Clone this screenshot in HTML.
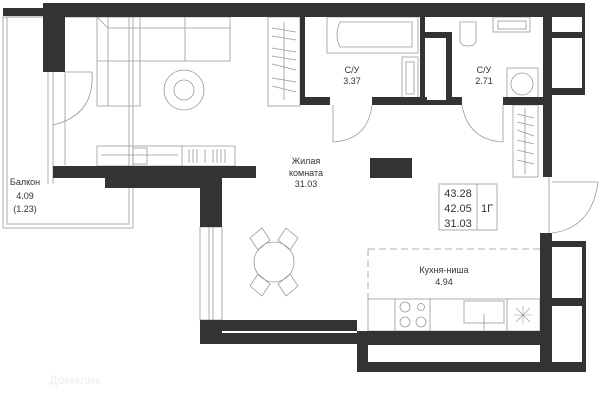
<!DOCTYPE html>
<html><head><meta charset="utf-8"><style>
html,body{margin:0;padding:0;background:#fff;}
svg{display:block;}
text{font-family:"Liberation Sans",sans-serif;fill:#333;font-size:9px;text-anchor:middle;}
</style></head><body>
<svg width="600" height="405" viewBox="0 0 600 405" xmlns="http://www.w3.org/2000/svg">
<g fill="none" stroke="#999" stroke-width="0.8">
<!-- balcony -->
<rect x="3" y="17" width="130" height="211"/>
<rect x="7" y="17" width="122" height="207"/>
<!-- left window -->
<line x1="48" y1="72" x2="48" y2="184"/><line x1="53" y1="72" x2="53" y2="184"/><line x1="65" y1="72" x2="65" y2="165"/>
<!-- door balcony -->
<line x1="65" y1="72" x2="92" y2="72"/>
<path d="M92 72 Q95 115 53 125"/>
<!-- sofa -->
<path d="M97 17 H230 V61 H140 V106 H97 Z"/>
<line x1="108" y1="17" x2="108" y2="106"/><line x1="97" y1="61" x2="140" y2="61"/><line x1="97" y1="17" x2="108" y2="28"/><line x1="108" y1="28" x2="230" y2="28"/>
<line x1="140" y1="17" x2="140" y2="61"/><line x1="185" y1="17" x2="185" y2="61"/>
<circle cx="184" cy="90" r="20"/><circle cx="184" cy="90" r="10"/>
<!-- wardrobe -->
<rect x="268" y="17" width="32" height="89"/>
<path d="M272 28 L296 32 M272 36 L296 40 M272 48 L296 52 M272 56 L296 60 M272 64 L296 70 M272 78 L296 82 M272 86 L296 92 M284 22 V100"/>
<!-- tv console -->
<rect x="97" y="146" width="138" height="20"/>
<line x1="182" y1="146" x2="182" y2="166"/>
<line x1="101" y1="155" x2="178" y2="155"/>
<rect x="133" y="148" width="14" height="16"/>
<path d="M189 149 V163 M193 149 V163 M197 149 V163 M205 149 V163 M213 149 V163 M217 149 V163 M221 149 V163 M225 149 V163"/>
<!-- window bottom left -->
<rect x="200" y="227" width="22" height="93"/><line x1="209" y1="227" x2="209" y2="320"/><line x1="213" y1="227" x2="213" y2="320"/>
<!-- dining -->
<circle cx="274" cy="262" r="20"/>
<path d="M250 238 L262 228 L270 240 L258 250 Z M286 228 L298 238 L290 250 L278 240 Z M250 286 L262 296 L270 284 L258 274 Z M298 286 L286 296 L278 284 L290 274 Z"/>
<!-- bathtub -->
<rect x="327" y="17" width="91" height="36"/>
<path d="M340 22 H412 V47 H340 Q334 35 340 22 Z"/>
<rect x="402" y="57" width="16" height="42"/><rect x="406" y="62" width="8" height="32"/>
<!-- toilet / sink -->
<path d="M460 22 H476 V40 Q476 46 468 46 Q460 46 460 40 Z"/>
<rect x="493" y="17" width="37" height="15"/><rect x="498" y="21" width="28" height="8"/>
<rect x="507" y="68" width="31" height="32"/><circle cx="522" cy="84" r="11"/>
<!-- doors bathrooms -->
<path d="M333 105 V142 Q368 140 372 105"/>
<path d="M503 105 V142 Q468 140 462 105"/>
<!-- hall wardrobe -->
<rect x="513" y="105" width="25" height="72"/>
<path d="M517 114 L534 118 M517 122 L534 126 M517 130 L534 136 M517 140 L534 144 M517 150 L534 154 M517 160 L534 164 M525 108 V174"/>
<!-- entrance door -->
<line x1="549" y1="177" x2="549" y2="233"/><line x1="552" y1="182" x2="598" y2="182"/>
<path d="M552 233 Q592 228 598 182"/>
<!-- info box -->
<rect x="439" y="184" width="58" height="46"/><line x1="477" y1="184" x2="477" y2="230"/>
<!-- kitchen -->
<path d="M368 249 H540" stroke-dasharray="7 4"/><path d="M368 249 V299" stroke-dasharray="7 4"/>
<rect x="368" y="299" width="172" height="32"/>
<line x1="395" y1="299" x2="395" y2="331"/><line x1="430" y1="299" x2="430" y2="331"/><line x1="507" y1="299" x2="507" y2="331"/>
<circle cx="405" cy="307" r="5"/><circle cx="421" cy="307" r="3.5"/><circle cx="405" cy="322" r="5"/><circle cx="421" cy="322" r="5"/>
<rect x="464" y="301" width="40" height="22"/><line x1="484" y1="314" x2="484" y2="330"/>
<path d="M516 308 L530 322 M530 308 L516 322 M523 306 V324 M514 315 H532" stroke-width="0.6"/>
</g>
<g fill="#333">
<rect x="3" y="8" width="40" height="8"/>
<rect x="43" y="3" width="542" height="14"/>
<rect x="43" y="3" width="22" height="69"/>
<rect x="53" y="166" width="203" height="12"/>
<rect x="105" y="177" width="117" height="11"/>
<rect x="200" y="177" width="22" height="50"/>
<rect x="200" y="320" width="157" height="24"/>
<rect x="300" y="17" width="5" height="88"/>
<rect x="300" y="97" width="30" height="8"/>
<rect x="372" y="97" width="90" height="8"/>
<rect x="503" y="97" width="49" height="8"/>
<rect x="420" y="17" width="5" height="88"/>
<rect x="425" y="32" width="27" height="6"/>
<rect x="446" y="32" width="6" height="73"/>
<rect x="543" y="17" width="9" height="160"/>
<rect x="552" y="17" width="33" height="78"/>
<rect x="357" y="331" width="229" height="41"/>
<rect x="540" y="233" width="12" height="139"/>
<rect x="552" y="241" width="34" height="131"/>
<rect x="370" y="158" width="42" height="20"/>
</g>
<g fill="#fff">
<rect x="222" y="331" width="135" height="2"/>
<rect x="552" y="17" width="30" height="15"/>
<rect x="552" y="38" width="30" height="50"/>
<rect x="427" y="38" width="19" height="62"/>
<rect x="368" y="345" width="172" height="17"/>
<rect x="552" y="247" width="30" height="51"/>
<rect x="552" y="306" width="30" height="56"/>
</g>
<text x="25" y="185">Балкон</text><text x="25" y="199">4.09</text><text x="25" y="212">(1.23)</text>
<text x="306" y="164">Жилая</text><text x="306" y="176">комната</text><text x="306" y="187">31.03</text>
<text x="352" y="73">С/У</text><text x="352" y="84">3.37</text>
<text x="484" y="73">С/У</text><text x="484" y="84">2.71</text>
<text x="444" y="273">Кухня-ниша</text><text x="444" y="285">4.94</text>
<text x="458" y="197" style="font-size:11px">43.28</text>
<text x="458" y="212" style="font-size:11px">42.05</text>
<text x="458" y="227" style="font-size:11px">31.03</text>
<text x="487" y="212" style="font-size:11px">1Г</text>
<text x="75" y="384" style="font-size:12px;fill:#f2f2f2;font-weight:bold">Домклик</text>
</svg>
</body></html>
